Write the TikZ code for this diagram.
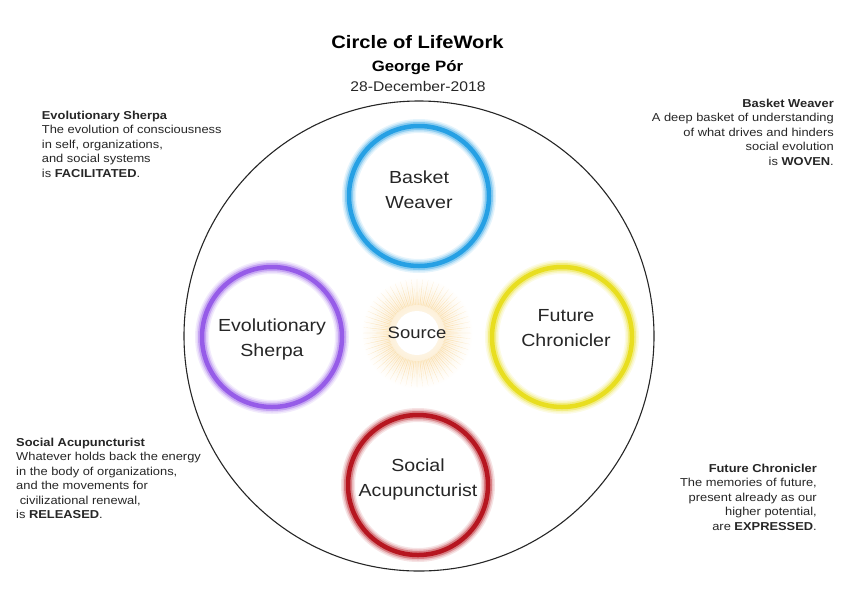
\documentclass[tikz,border=0pt]{standalone}
\usepackage{fontspec}
\setmainfont{Liberation Sans}[FakeStretch=1.12]
\usetikzlibrary{positioning}

\definecolor{weaverblue}{RGB}{38,160,228}
\definecolor{sherpapurple}{RGB}{150,92,232}
\definecolor{chroniclergold}{RGB}{232,222,32}
\definecolor{acured}{RGB}{182,22,32}
\definecolor{sunray}{RGB}{248,206,130}

\begin{document}
\begin{tikzpicture}[x=1pt, y=-1pt,
  ring/.style={circle, minimum size=140pt, inner sep=0pt, draw=#1, line width=4.5pt,
     preaction={draw=#1!12, line width=14pt}, preaction={draw=#1!28, line width=11pt},
     preaction={draw=#1!55, line width=8pt}},
  ringtext/.style={align=center, inner sep=0pt, font=\fontsize{17.5}{25}\selectfont, text=black!85},
  note/.style={inner sep=0pt, font=\fontsize{11.5}{14.5}\selectfont, text=black!85}]
  \useasboundingbox (0,0) rectangle (850,606);

  \node[anchor=base, font=\fontsize{18}{20}\selectfont\bfseries] (title) at (417.5,48.3) {Circle of LifeWork};
  \node[anchor=base, font=\fontsize{15}{17}\selectfont\bfseries] (author) at (417.5,71.7) {George Pór};
  \node[anchor=base, font=\fontsize{14}{16}\selectfont, text=black!85] (date) at (418,91) {28-December-2018};

  \node[circle, draw=black!85, line width=1.1pt, minimum size=470pt, inner sep=0pt] (lifework) at (419,336) {};

  \begin{scope}[shift={(417,333)}]
    \shade[inner color=sunray!50, outer color=white] (0,0) circle (56);
    \foreach \a in {0,6,...,354}
      \fill[sunray, opacity=.45] (\a-2.2:18) -- (\a:54) -- (\a+2.2:18) -- cycle;
    \foreach \a in {3,9,...,357}
      \fill[sunray, opacity=.35] (\a-2:18) -- (\a:45) -- (\a+2:18) -- cycle;
    \shade[inner color=white, outer color=white!70!sunray] (0,0) circle (28);
    \fill[white] (0,0) circle (22);
  \end{scope}
  \node[anchor=base, font=\fontsize{16.5}{18}\selectfont, text=black!85] (source) at (417,338) {Source};

  \node[ring=weaverblue] (weaver) at (419,196) {};
  \node[ring=sherpapurple] (sherpa) at (272,337) {};
  \node[ring=chroniclergold] (chronicler) at (562,337) {};
  \node[ring=acured] (acupuncturist) at (418,485) {};

  \node[ringtext] (weavertxt) at (419,189.5) {Basket\\Weaver};
  \node[ringtext] (sherpatxt) at (272,339) {Evolutionary\\Sherpa};
  \node[ringtext] (chroniclertxt) at (566,328) {Future\\Chronicler};
  \node[ringtext] (acupuncturisttxt) at (418,479.7) {Social\\Acupuncturist};

  \node[note, align=left, anchor=north west] (sherpanote) at (41.7,110.5) {\textbf{Evolutionary Sherpa}\\
     The evolution of consciousness\\ in self, organizations,\\ and social systems\\ is \textbf{FACILITATED}.};
  \node[note, align=right, anchor=north east] (weavernote) at (834,98.5) {\textbf{Basket Weaver}\\
     A deep basket of understanding\\ of what drives and hinders\\ social evolution\\ is \textbf{WOVEN}.};
  \node[note, align=left, anchor=north west] (acupuncturistnote) at (16,437.5) {\textbf{Social Acupuncturist}\\
     Whatever holds back the energy\\ in the body of organizations,\\ and the movements for\\ \ civilizational renewal,\\ is \textbf{RELEASED}.};
  \node[note, align=right, anchor=north east] (chroniclernote) at (817,463.5) {\textbf{Future Chronicler}\\
     The memories of future,\\ present already as our\\ higher potential,\\ are \textbf{EXPRESSED}.};
\end{tikzpicture}
\end{document}
